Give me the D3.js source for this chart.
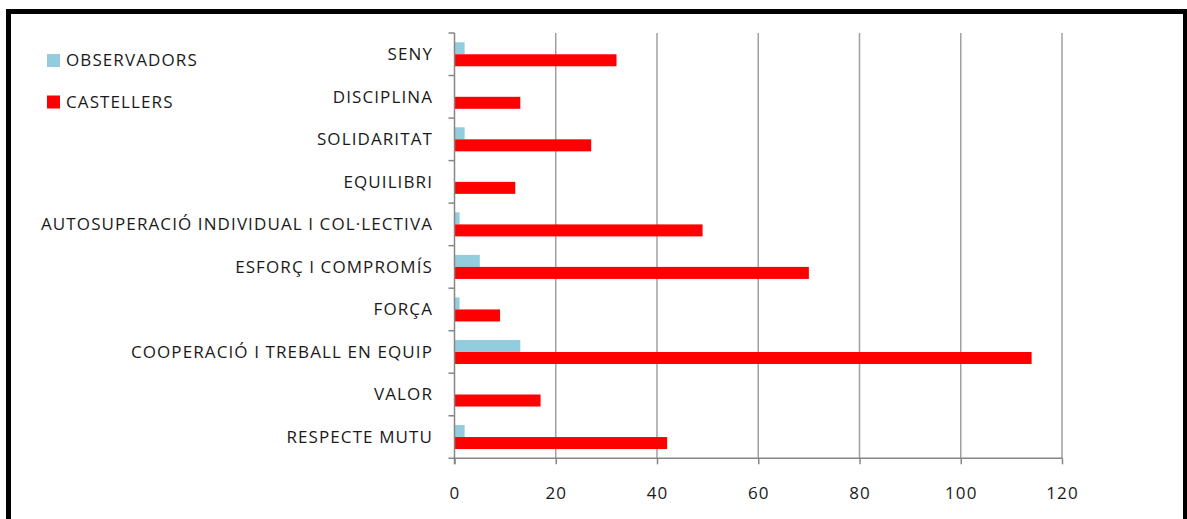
<!DOCTYPE html>
<html>
<head>
<meta charset="utf-8">
<script src="https://cdn.jsdelivr.net/npm/d3@7"></script>
<style>
    body { margin: 0; background: #fff; }
    svg text { font-family: "Open Sans", "Noto Sans", sans-serif; fill: #1a1a1a; font-size: 17px; letter-spacing: 1.1px; }
    .grid line { stroke: #a0a0a0; stroke-width: 1.5; }
    .axis path, .axis line { stroke: #868686; stroke-width: 1.5; }
</style>
</head>
<body>
<div id="chart"></div>
<script>
/*
 * Chart data.
 */
var categories = [
    'SENY',
    'DISCIPLINA',
    'SOLIDARITAT',
    'EQUILIBRI',
    'AUTOSUPERACIÓ INDIVIDUAL I COL·LECTIVA',
    'ESFORÇ I COMPROMÍS',
    'FORÇA',
    'COOPERACIÓ I TREBALL EN EQUIP',
    'VALOR',
    'RESPECTE MUTU'
];
var seriesNames = ['OBSERVADORS', 'CASTELLERS'];
var observadors = [2, 0, 2, 0, 1, 5, 1, 13, 0, 2];
var castellers  = [32, 13, 27, 12, 49, 70, 9, 114, 17, 42];
var xTicks = [0, 20, 40, 60, 80, 100, 120];
var colors = ['#93cddd', '#ff0000'];

var width = 1187, height = 519;
var plot = { left: 454.5, right: 1062, top: 33, bottom: 458.3 };

var svg = d3.select('#chart').append('svg')
    .attr('width', width)
    .attr('height', height);

/*
 * Outer frame.
 */
svg.append('rect')
    .attr('x', 8.5)
    .attr('y', 11.5)
    .attr('width', 1177)
    .attr('height', 540)
    .attr('fill', 'none')
    .attr('stroke', '#000')
    .attr('stroke-width', 5);

/*
 * Scales.
 */
var x = d3.scaleLinear()
    .domain([0, 120])
    .range([plot.left, plot.right]);

var y = d3.scaleBand()
    .domain(categories)
    .range([plot.top, plot.bottom])
    .paddingInner(0.435)
    .paddingOuter(0.2175);

var ySub = d3.scaleBand()
    .domain(seriesNames)
    .range([0, y.bandwidth()]);

/*
 * Gridlines.
 */
svg.append('g')
    .attr('class', 'grid')
    .selectAll('line')
    .data(xTicks.slice(1))
    .join('line')
    .attr('x1', d => x(d))
    .attr('x2', d => x(d))
    .attr('y1', plot.top)
    .attr('y2', plot.bottom);

/*
 * Bars.
 */
var rows = categories.map(function(c, i) {
    return { cat: c, values: [observadors[i], castellers[i]] };
});

var groups = svg.append('g')
    .selectAll('g')
    .data(rows)
    .join('g')
    .attr('transform', d => 'translate(0,' + y(d.cat) + ')');

groups.selectAll('rect')
    .data(d => d.values.map((v, i) => ({ name: seriesNames[i], value: v, i: i })))
    .join('rect')
    .attr('x', x(0))
    .attr('y', d => ySub(d.name))
    .attr('width', d => x(d.value) - x(0))
    .attr('height', ySub.bandwidth())
    .attr('fill', d => colors[d.i]);

/*
 * X axis.
 */
var xAxis = svg.append('g')
    .attr('class', 'axis')
    .attr('transform', 'translate(0,' + plot.bottom + ')')
    .call(d3.axisBottom(x).tickValues(xTicks).tickSize(6).tickSizeOuter(0).tickPadding(23));

xAxis.selectAll('text')
    .style('font-size', '17px')
    .attr('fill', '#1a1a1a');

xAxis.select('.domain')
    .attr('d', 'M' + (plot.left - 6) + ',0H' + plot.right);

/*
 * Y axis with ticks at category boundaries.
 */
var yAxis = svg.append('g').attr('class', 'axis');

yAxis.append('line')
    .attr('x1', plot.left)
    .attr('x2', plot.left)
    .attr('y1', plot.top)
    .attr('y2', plot.bottom + 6);

yAxis.selectAll('line.tick')
    .data(d3.range(categories.length))
    .join('line')
    .attr('class', 'tick')
    .attr('x1', plot.left - 6)
    .attr('x2', plot.left)
    .attr('y1', i => plot.top + i * y.step())
    .attr('y2', i => plot.top + i * y.step());

yAxis.selectAll('text')
    .data(categories)
    .join('text')
    .attr('x', 433)
    .attr('y', d => y(d) + y.bandwidth() / 2)
    .attr('dy', '0.35em')
    .attr('text-anchor', 'end')
    .text(d => d);

/*
 * Legend.
 */
var legend = svg.append('g')
    .selectAll('g')
    .data(seriesNames)
    .join('g')
    .attr('transform', (d, i) => 'translate(47,' + (54 + i * 41.5) + ')');

legend.append('rect')
    .attr('width', 13)
    .attr('height', 13)
    .attr('fill', (d, i) => colors[i]);

legend.append('text')
    .attr('x', 19)
    .attr('y', 6.5)
    .attr('dy', '0.35em')
    .text(d => d);
</script>
</body>
</html>
